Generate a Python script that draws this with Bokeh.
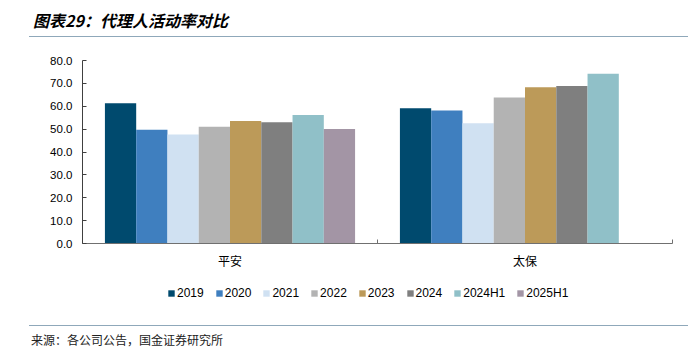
from bokeh.plotting import figure
from bokeh.layouts import column
from bokeh.models import (ColumnDataSource, Range1d, LinearAxis, FixedTicker, NumeralTickFormatter,
                          Legend, LegendItem, Div)
from bokeh.transform import dodge
from bokeh.embed import file_html
from bokeh.resources import INLINE

# ---- data ----
categories = ["平安", "太保"]
years = ["2019", "2020", "2021", "2022", "2023", "2024", "2024H1", "2025H1"]
pingan = [61.3, 49.7, 47.6, 51.0, 53.6, 53.0, 56.2, 50.1]
taibao = [59.1, 58.1, 52.6, 63.8, 68.3, 68.8, 74.2, float("nan")]
colors = ["#004A6E", "#3F7FBF", "#D0E1F2", "#B3B3B3", "#BC9A59", "#7F7F7F", "#90C0C8", "#A395A5"]
y_ticks = [0, 10, 20, 30, 40, 50, 60, 70, 80]

title_text = "图表29：代理人活动率对比"
source_text = "来源：各公司公告，国金证券研究所"

W = 689
RULE = "#8FA8BA"

# ---- header (title + rule) ----
header = Div(width=W, height=45, margin=0, text=(
    '<div style="position:relative;width:689px;height:45px;">'
    '<div style="position:absolute;left:33px;top:9px;line-height:22px;white-space:nowrap;'
    'font-family:\'Noto Sans CJK SC\';font-size:16px;font-weight:bold;font-style:italic;color:#000;">'
    + title_text + '</div>'
    '<div style="position:absolute;left:29px;top:36px;width:659px;height:0;border-top:1.5px solid '
    + RULE + ';"></div></div>'))

# ---- main chart ----
n = len(categories)
centers = [i + 0.5 for i in range(n)]
data = {"xc": centers, "cat": categories}
for i, y in enumerate(years):
    data[y] = [pingan[i], taibao[i]]
src = ColumnDataSource(data)

p = figure(frame_width=590, frame_height=183, output_backend="svg", toolbar_location=None,
           x_range=Range1d(0, n), y_range=Range1d(0, 80),
           x_axis_location=None, y_axis_location=None,
           min_border_left=82, min_border_right=17, min_border_top=15, min_border_bottom=32)
p.outline_line_color = None
p.grid.visible = False
p.background_fill_color = "white"
p.border_fill_color = "white"

bw = 0.106
start = -bw * (len(years) - 1) / 2
for i, y in enumerate(years):
    p.vbar(x=dodge("xc", start + i * bw), top=y, width=bw,
           source=src, fill_color=colors[i], line_color=None)

yax = LinearAxis(ticker=FixedTicker(ticks=y_ticks), formatter=NumeralTickFormatter(format="0.0"),
                 major_tick_in=4, major_tick_out=0, minor_tick_in=0, minor_tick_out=0,
                 axis_line_color="#404040", major_tick_line_color="#404040",
                 major_label_text_font="Liberation Sans", major_label_text_font_size="11.5px",
                 major_label_text_color="#000000", major_label_standoff=10)
p.add_layout(yax, "left")

xax = LinearAxis(ticker=FixedTicker(ticks=centers, minor_ticks=list(range(n + 1))),
                 major_label_overrides={c: lab for c, lab in zip(centers, categories)},
                 major_tick_in=0, major_tick_out=0, minor_tick_in=4, minor_tick_out=0,
                 axis_line_color="#707070", minor_tick_line_color="#707070",
                 major_label_text_font="Noto Sans CJK SC", major_label_text_font_size="12px",
                 major_label_text_color="#000000", major_label_standoff=8)
p.add_layout(xax, "below")

# ---- legend strip ----
lg = figure(frame_width=590, frame_height=30, output_backend="svg", toolbar_location=None,
            x_range=Range1d(0, 1), y_range=Range1d(0, 1),
            x_axis_location=None, y_axis_location=None,
            min_border_left=82, min_border_right=17, min_border_top=0, min_border_bottom=0)
lg.outline_line_color = None
lg.grid.visible = False
lg.background_fill_color = "white"
lg.border_fill_color = "white"
items = []
for i, y in enumerate(years):
    r = lg.vbar(x=[float("nan")], top=[float("nan")], width=0.1, fill_color=colors[i], line_color=None)
    items.append(LegendItem(label=y, renderers=[r]))
legend = Legend(items=items, orientation="horizontal", glyph_width=8, glyph_height=8,
                label_standoff=2, spacing=11, label_height=14, label_text_font="Liberation Sans",
                label_text_font_size="12px", label_text_color="#000000", label_text_baseline="middle",
                border_line_color=None, background_fill_alpha=0, padding=0, margin=0,
                location=(85, 5))
lg.add_layout(legend, "center")

# ---- footer (rule + source) ----
footer = Div(width=W, height=47, margin=0, text=(
    '<div style="position:relative;width:689px;height:47px;">'
    '<div style="position:absolute;left:29px;top:20px;width:659px;height:0;border-top:1.5px solid '
    + RULE + ';"></div>'
    '<div style="position:absolute;left:31px;top:27px;line-height:16px;white-space:nowrap;'
    'font-family:\'Noto Sans CJK SC\';font-size:12px;color:#222;">'
    + source_text + '</div></div>'))

layout = column(header, p, lg, footer, spacing=0)
open("out.html", "w").write(file_html(layout, INLINE))
